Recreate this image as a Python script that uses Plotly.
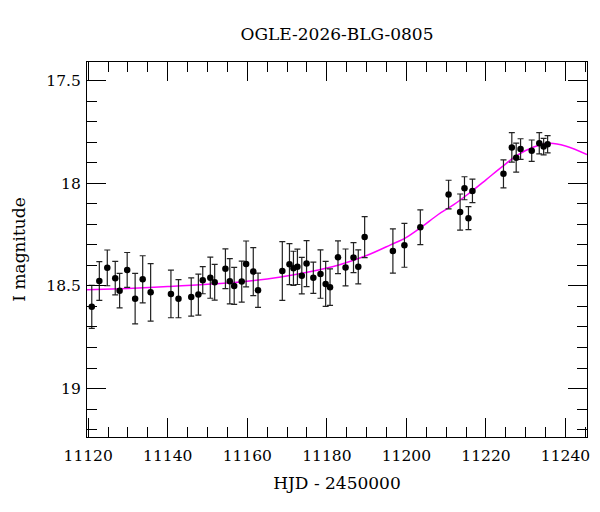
import plotly.graph_objects as go

# photometry (HJD - 2450000, I mag, 1-sigma error)
hjd = [
    11120.9, 11122.8, 11124.8, 11126.8, 11127.9, 11129.8, 11131.8, 11133.7, 11135.7,
    11140.8, 11142.7, 11145.9, 11147.7, 11148.8, 11150.7, 11151.8, 11154.5, 11155.6,
    11156.7, 11158.6, 11159.7, 11161.5, 11162.7, 11168.8, 11170.6, 11171.6, 11172.6,
    11173.7, 11174.9, 11176.6, 11178.4, 11179.7, 11180.8, 11182.8, 11184.7, 11186.7,
    11187.9, 11189.5, 11196.6, 11199.5, 11203.5, 11210.6, 11213.5, 11214.6, 11215.6,
    11216.6, 11224.4, 11226.5, 11227.6, 11228.7, 11231.5, 11233.4, 11234.5, 11235.5,
]
imag = [
    18.602, 18.476, 18.412, 18.462, 18.523, 18.422, 18.562, 18.468, 18.531,
    18.539, 18.562, 18.554, 18.542, 18.472, 18.460, 18.482, 18.416, 18.477,
    18.500, 18.479, 18.393, 18.430, 18.521, 18.427, 18.394, 18.414, 18.407,
    18.450, 18.391, 18.460, 18.442, 18.490, 18.506, 18.360, 18.410, 18.362,
    18.407, 18.262, 18.330, 18.302, 18.214, 18.055, 18.140, 18.024, 18.170,
    18.037, 17.954, 17.825, 17.875, 17.833, 17.841, 17.805, 17.821, 17.810,
]
imag_err = [
    0.105, 0.094, 0.087, 0.082, 0.084, 0.085, 0.123, 0.115, 0.140,
    0.116, 0.093, 0.093, 0.100, 0.066, 0.100, 0.087, 0.097, 0.110,
    0.090, 0.100, 0.112, 0.117, 0.083, 0.143, 0.100, 0.083, 0.086,
    0.089, 0.112, 0.076, 0.118, 0.110, 0.089, 0.080, 0.090, 0.073,
    0.083, 0.100, 0.108, 0.107, 0.085, 0.070, 0.088, 0.056, 0.056,
    0.057, 0.068, 0.072, 0.071, 0.050, 0.052, 0.052, 0.040, 0.042,
]

# model curve
model_hjd = [
    11119.7, 11130, 11140, 11150, 11160, 11168, 11176, 11183, 11190, 11196, 11200,
    11204, 11208, 11212, 11216, 11220, 11224, 11228, 11232, 11236, 11240, 11245.4,
]
model_mag = [
    18.519, 18.512, 18.503, 18.492, 18.477, 18.458, 18.430, 18.398, 18.352, 18.300, 18.263,
    18.210, 18.152, 18.103, 18.045, 17.983, 17.920, 17.862, 17.823, 17.805, 17.818, 17.860,
]

FONT = "DejaVu Serif"

fig = go.Figure()
fig.add_trace(go.Scatter(
    x=model_hjd, y=model_mag, mode="lines", line_shape="spline",
    line={"color": "#ff00ff", "width": 1.5}, showlegend=False,
))
fig.add_trace(go.Scatter(
    x=hjd, y=imag, mode="markers",
    marker={"color": "black", "size": 6.5},
    error_y={"type": "data", "array": imag_err, "color": "#222222", "thickness": 1.2, "width": 3},
    showlegend=False,
))

axis_common = dict(
    showline=True, linecolor="black", linewidth=1.2, mirror="ticks",
    ticks="inside", ticklen=19, tickwidth=1, tickcolor="black",
    showgrid=False, zeroline=False, automargin=False,
    tickfont={"family": FONT, "size": 15.5, "color": "black"},
)
fig.update_xaxes(
    **axis_common,
    range=[11119.7, 11245.4], tick0=11120, dtick=20, tickformat="d", ticklabelstandoff=4,
    minor={"ticks": "inside", "ticklen": 10, "dtick": 5, "tickcolor": "black", "tickwidth": 1, "showgrid": False},
    title={"text": "HJD - 2450000", "font": {"family": FONT, "size": 17, "color": "black"}, "standoff": 13},
)
fig.update_yaxes(
    **axis_common,
    range=[19.236, 17.409], tick0=17.5, dtick=0.5, ticklabelstandoff=2,
    minor={"ticks": "inside", "ticklen": 10, "dtick": 0.1, "tickcolor": "black", "tickwidth": 1, "showgrid": False},
    title={"text": "I magnitude", "font": {"family": FONT, "size": 17, "color": "black"}, "standoff": 16},
)
# the page body adds an 8px offset, so the figure is sized 8px smaller
fig.update_layout(
    width=592, height=504,
    margin={"l": 79, "r": 13, "t": 54, "b": 75, "autoexpand": False},
    paper_bgcolor="white", plot_bgcolor="white",
    title={"text": "OGLE-2026-BLG-0805", "x": 0.5, "xref": "paper", "y": 1 - 26 / 504,
           "yanchor": "middle", "font": {"family": FONT, "size": 17, "color": "black"}},
)
fig.write_html("out.html")
